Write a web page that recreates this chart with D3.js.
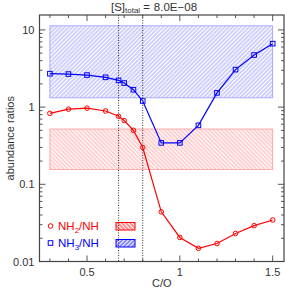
<!DOCTYPE html>
<html>
<head>
<meta charset="utf-8">
<script src="https://cdn.jsdelivr.net/npm/d3@7"></script>
<style>
  body { margin: 0; background: white; }
  text { font-family: "Liberation Sans", Arial, sans-serif; }
</style>
</head>
<body>
<svg id="chart" width="285" height="291"></svg>
<script>
// Data
var co = [0.3, 0.4, 0.5, 0.6, 0.67, 0.7, 0.75, 0.8, 0.9, 1.0, 1.1, 1.2, 1.3, 1.4, 1.5];
var nh2_nh = [0.83, 0.94, 0.97, 0.89, 0.76, 0.67, 0.50, 0.30, 0.044, 0.0205, 0.0148, 0.0171, 0.0231, 0.0291, 0.0345];
var nh3_nh = [2.71, 2.68, 2.6, 2.43, 2.22, 2.05, 1.68, 1.2, 0.344, 0.344, 0.58, 1.53, 3.06, 4.73, 6.64];
var obsNH2 = { x0: 0.3, x1: 1.5, lo: 0.155, hi: 0.52 };
var obsNH3 = { x0: 0.3, x1: 1.5, lo: 1.32, hi: 11.3 };
var vlines = [0.67, 0.8];
var xTicks = [0.5, 1, 1.5];
var yTicks = [0.01, 0.1, 1, 10];

var red = '#ff0000', blue = '#0000ff';
var pLeft = 39.5, pRight = 284, pTop = 15, pBottom = 261.5;

var svg = d3.select('#chart');

var x = d3.scaleLinear().domain([0.244, 1.561]).range([pLeft, pRight]);
var y = d3.scaleLog().domain([0.01, 15.6]).range([pBottom, pTop]);

/***********************************************************************/
// Hatch patterns

var defs = svg.append('defs');
function hatch(id, color, angle, sw){
  var p = defs.append('pattern').attr('id', id).attr('patternUnits', 'userSpaceOnUse')
    .attr('width', 2.9).attr('height', 2.9).attr('patternTransform', 'rotate(' + angle + ')');
  p.append('line').attr('x1', 1).attr('y1', 0).attr('x2', 1).attr('y2', 2.9)
    .attr('stroke', color).attr('stroke-width', sw);
}
hatch('hBlue', '#8c8cff', 45, 0.8);
hatch('hRed', '#ff8c8c', -45, 0.8);
hatch('hBlueL', blue, 45, 0.9);
hatch('hRedL', red, -45, 0.9);

/***********************************************************************/
// Observed ranges

function box(o, stroke, pat){
  svg.append('rect').attr('x', x(o.x0)).attr('y', y(o.hi))
    .attr('width', x(o.x1) - x(o.x0)).attr('height', y(o.lo) - y(o.hi))
    .attr('fill', 'url(#' + pat + ')').attr('stroke', stroke).attr('stroke-width', 0.8);
}
box(obsNH3, '#9a9aff', 'hBlue');
box(obsNH2, '#ff9a9a', 'hRed');

// dotted verticals
svg.selectAll('.vl').data(vlines).enter().append('line')
  .attr('x1', d => x(d)).attr('x2', d => x(d)).attr('y1', pTop).attr('y2', pBottom)
  .attr('stroke', '#000').attr('stroke-width', 0.8).attr('stroke-dasharray', '1,1.5');

/***********************************************************************/
// Axes (ticks inward, all four sides)

function minorX(){ var t = []; for (var v = 0.3; v <= 1.55; v += 0.1) t.push(+v.toFixed(2)); return t.filter(v => xTicks.indexOf(v) < 0); }
function minorY(){ var t = []; [0.01, 0.1, 1, 10].forEach(d => { for (var k = 2; k <= 9; k++) if (d * k <= 15.6) t.push(d * k); }); return t; }

var g = svg.append('g').attr('stroke', '#444').attr('stroke-width', 0.9);
xTicks.forEach(v => {
  g.append('line').attr('x1', x(v)).attr('x2', x(v)).attr('y1', pBottom).attr('y2', pBottom - 6);
  g.append('line').attr('x1', x(v)).attr('x2', x(v)).attr('y1', pTop).attr('y2', pTop + 6);
});
minorX().forEach(v => {
  g.append('line').attr('x1', x(v)).attr('x2', x(v)).attr('y1', pBottom).attr('y2', pBottom - 3);
  g.append('line').attr('x1', x(v)).attr('x2', x(v)).attr('y1', pTop).attr('y2', pTop + 3);
});
yTicks.forEach(v => {
  g.append('line').attr('x1', pLeft).attr('x2', pLeft + 6).attr('y1', y(v)).attr('y2', y(v));
  g.append('line').attr('x1', pRight).attr('x2', pRight - 6).attr('y1', y(v)).attr('y2', y(v));
});
minorY().forEach(v => {
  g.append('line').attr('x1', pLeft).attr('x2', pLeft + 3).attr('y1', y(v)).attr('y2', y(v));
  g.append('line').attr('x1', pRight).attr('x2', pRight - 3).attr('y1', y(v)).attr('y2', y(v));
});
g.append('rect').attr('x', pLeft).attr('y', pTop).attr('width', pRight - pLeft).attr('height', pBottom - pTop)
  .attr('fill', 'none').attr('stroke', '#444').attr('stroke-width', 1.2);

svg.selectAll('.xl').data(xTicks).enter().append('text')
  .attr('x', d => x(d)).attr('y', pBottom + 14).attr('text-anchor', 'middle')
  .attr('font-size', 11).attr('fill', '#333').text(d => d);
svg.selectAll('.yl').data(yTicks).enter().append('text')
  .attr('x', pLeft - 5).attr('y', d => y(d) + 4).attr('text-anchor', 'end')
  .attr('font-size', 11).attr('fill', '#333').text(d => d);

svg.append('text').attr('x', (pLeft + pRight) / 2).attr('y', 287).attr('text-anchor', 'middle')
  .attr('font-size', 11).attr('fill', '#333').text('C/O');
svg.append('text').attr('transform', 'translate(14,' + ((pTop + pBottom) / 2) + ') rotate(-90)')
  .attr('text-anchor', 'middle').attr('font-size', 11).attr('fill', '#333').text('abundance ratios');

var title = svg.append('text').attr('x', 154).attr('y', 10.5).attr('text-anchor', 'middle')
  .attr('font-size', 11.5).attr('fill', '#333');
title.append('tspan').text('[S]');
title.append('tspan').attr('font-size', 8).attr('dy', 2).text('total');
title.append('tspan').attr('dy', -2).attr('dx', 3).text('=');
title.append('tspan').attr('dx', 4).text('8.0E\u221208');

/***********************************************************************/
// Series

var line = d3.line().x((d, i) => x(co[i])).y(d => y(d));

svg.append('path').datum(nh2_nh).attr('d', line).attr('fill', 'none').attr('stroke', red).attr('stroke-width', 1.2);
svg.selectAll('.c').data(nh2_nh).enter().append('circle')
  .attr('cx', (d, i) => x(co[i])).attr('cy', d => y(d)).attr('r', 2.3)
  .attr('fill', 'none').attr('stroke', red).attr('stroke-width', 1);

svg.append('path').datum(nh3_nh).attr('d', line).attr('fill', 'none').attr('stroke', blue).attr('stroke-width', 1.2);
svg.selectAll('.s').data(nh3_nh).enter().append('rect')
  .attr('x', (d, i) => x(co[i]) - 2.3).attr('y', d => y(d) - 2.3).attr('width', 4.6).attr('height', 4.6)
  .attr('fill', 'none').attr('stroke', blue).attr('stroke-width', 1);

/***********************************************************************/
// Legend

var legend = [
  { name: 'NH', sub: '2', color: red, pat: 'hRedL', shape: 'circle' },
  { name: 'NH', sub: '3', color: blue, pat: 'hBlueL', shape: 'square' }
];
legend.forEach((l, i) => {
  var ly = 226 + i * 17;
  if (l.shape === 'circle') {
    svg.append('circle').attr('cx', 50.5).attr('cy', ly).attr('r', 2.3).attr('fill', 'none').attr('stroke', l.color).attr('stroke-width', 1);
  } else {
    svg.append('rect').attr('x', 48.2).attr('y', ly - 2.3).attr('width', 4.6).attr('height', 4.6).attr('fill', 'none').attr('stroke', l.color).attr('stroke-width', 1);
  }
  var t = svg.append('text').attr('x', 58).attr('y', ly + 4).attr('font-size', 11.5).attr('fill', l.color);
  t.append('tspan').text(l.name);
  t.append('tspan').attr('font-size', 8).attr('dy', 2.5).text(l.sub);
  t.append('tspan').attr('dy', -2.5).text('/NH');
  svg.append('rect').attr('x', 116).attr('y', ly - 3.5).attr('width', 19).attr('height', 7.5)
    .attr('fill', 'url(#' + l.pat + ')').attr('stroke', l.color).attr('stroke-width', 1);
});
</script>
</body>
</html>
